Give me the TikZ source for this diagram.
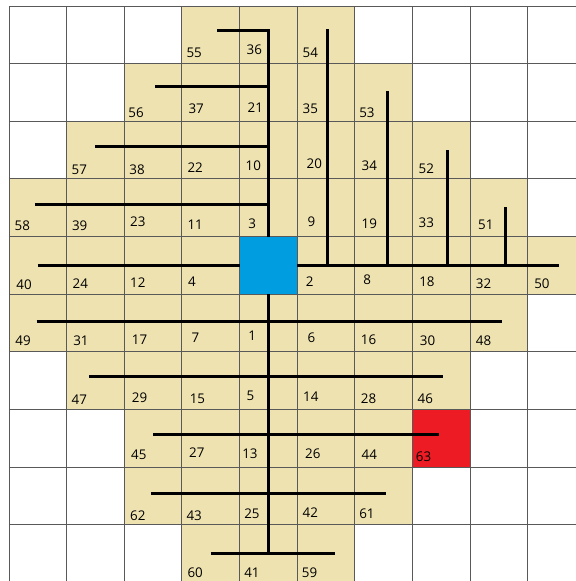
\documentclass[tikz,border=0pt]{standalone}
\usepackage{fontspec}
\setmainfont{Open Sans}
\definecolor{cellfill}{RGB}{238,226,177}
\definecolor{hubblue}{RGB}{0,158,224}
\definecolor{goalred}{RGB}{237,28,36}
\begin{document}
\begin{tikzpicture}[x=1cm,y=-1cm,
  lab/.style={anchor=west,inner sep=0pt,font=\fontsize{6.6}{7}\selectfont},
  pipe/.style={line width=1.5pt},
  gridline/.style={draw=black!65,line width=0.45pt},
  cellbox/.style={minimum size=1cm,inner sep=0pt,outer sep=0pt,anchor=north west}]
\useasboundingbox (-0.156,-0.104) rectangle (9.835,9.974);
\begin{scope}
\clip (-0.156,-0.104) rectangle (9.835,9.974);
\fill[cellfill] (3,0) rectangle (6,1);
\fill[cellfill] (2,1) rectangle (7,2);
\fill[cellfill] (1,2) rectangle (8,3);
\fill[cellfill] (0,3) rectangle (9,4);
\fill[cellfill] (0,4) rectangle (10,5);
\fill[cellfill] (0,5) rectangle (9,6);
\fill[cellfill] (1,6) rectangle (8,7);
\fill[cellfill] (2,7) rectangle (7,8);
\fill[cellfill] (2,8) rectangle (7,9);
\fill[cellfill] (3,9) rectangle (6,10);
\draw[gridline] (0,0) grid (10,10);
\end{scope}
\node[cellbox,fill=hubblue] (hub) at (4,4) {};
\node[cellbox,fill=goalred] (goal) at (7,7) {};
% upper trunk and left branches
\coordinate (u0) at (4.5,0.42);
\coordinate (u0e) at (3.61,0.42);
\coordinate (u1) at (4.5,1.39);
\coordinate (u1e) at (2.54,1.39);
\coordinate (u2) at (4.5,2.43);
\coordinate (u2e) at (1.49,2.43);
\coordinate (u3) at (4.5,3.44);
\coordinate (u3e) at (0.45,3.44);
\coordinate (w4e) at (0.50,4.5);
\draw[pipe] (u0e) -- (u0) -- (hub.north);
\draw[pipe] (u1e) -- (u1);
\draw[pipe] (u2e) -- (u2);
\draw[pipe] (u3e) -- (u3);
\draw[pipe] (w4e) -- (hub.west);
% right branch and verticals
\coordinate (e4e) at (9.535,4.5);
\draw[pipe] (hub.east) -- (e4e);
\coordinate (r1b) at (5.53,4.5);  \coordinate (r1t) at (5.53,0.40);
\coordinate (r2b) at (6.56,4.5);  \coordinate (r2t) at (6.56,1.47);
\coordinate (r3b) at (7.60,4.5);  \coordinate (r3t) at (7.60,2.50);
\coordinate (r4b) at (8.62,4.5);  \coordinate (r4t) at (8.62,3.49);
\draw[pipe] (r1b) -- (r1t);
\draw[pipe] (r2b) -- (r2t);
\draw[pipe] (r3b) -- (r3t);
\draw[pipe] (r4b) -- (r4t);
% lower trunk and cross branches
\coordinate (dend) at (4.5,9.50);
\draw[pipe] (hub.south) -- (dend);
\coordinate (a1) at (0.48,5.48); \coordinate (b1) at (8.56,5.48);
\coordinate (a2) at (1.39,6.43); \coordinate (b2) at (7.53,6.43);
\coordinate (a3) at (2.50,7.44); \coordinate (b3) at (7.46,7.44);
\coordinate (a4) at (2.46,8.46); \coordinate (b4) at (6.54,8.46);
\coordinate (a5) at (3.50,9.50); \coordinate (b5) at (5.66,9.50);
\draw[pipe] (a1) -- (b1);
\draw[pipe] (a2) -- (b2);
\draw[pipe] (a3) -- (b3);
\draw[pipe] (a4) -- (b4);
\draw[pipe] (a5) -- (b5);
% labels
\foreach \t/\c/\r/\dx/\dy in {
55/3/0/4.2/11, 36/4/0/6.7/13.5, 54/5/0/5/11.2,
56/2/1/3.8/8.3, 37/3/1/6.2/12.3, 21/4/1/7.7/13.7, 35/5/1/5/13, 53/6/1/4/9,
57/1/2/4.7/9.3, 38/2/2/4.8/9.3, 22/3/2/5.2/11.3, 10/4/2/5.7/13.3, 20/5/2/9/15.7, 34/6/2/6.4/13, 52/7/2/5.7/10.7,
58/0/3/5.3/11.2, 39/1/3/5/11.2, 23/2/3/5.5/15.2, 11/3/3/5.2/12.2, 3/4/3/8.3/13.2, 9/5/3/10/14.8, 19/6/3/6.4/13.2, 33/7/3/5.7/13.8, 51/8/3/7.6/12.2,
40/0/4/7/9.7, 24/1/4/5.7/10.7, 12/2/4/5.5/11.3, 4/3/4/5.8/13, 2/5/4/8.3/12.3, 8/6/4/8/14.7, 18/7/4/6.3/13, 32/8/4/5.3/10.7, 50/9/4/6/10.7,
49/0/5/6/11.2, 31/1/5/6.3/11.2, 17/2/5/7.2/11.8, 7/3/5/9.2/13.8, 1/4/5/8.3/16.2, 6/5/5/10/14.5, 16/6/5/5.7/12.2, 30/7/5/7/11.2, 48/8/5/5.3/11.2,
47/1/6/4.7/10.3, 29/2/6/7.2/12.3, 15/3/6/7.5/10.7, 5/4/6/6.7/14, 14/5/6/5.6/13, 28/6/6/5.7/11.3, 46/7/6/4.7/11.3,
45/2/7/6.5/12, 27/3/7/6.8/15, 13/4/7/2.3/13.7, 26/5/7/7.6/13.3, 44/6/7/6.4/12.7, 63/7/7/3/10.3,
62/2/8/5.5/9.2, 43/3/8/4.2/9.5, 25/4/8/4.3/11.2, 42/5/8/5/12.5, 61/6/8/4/11.2,
60/3/9/5.2/10, 41/4/9/4.3/10.3, 59/5/9/4.3/10}
  \node[lab] (n\t) at ({\c+\dx/57.65},{\r+1-\dy/57.65}) {\t};
\end{tikzpicture}
\end{document}
